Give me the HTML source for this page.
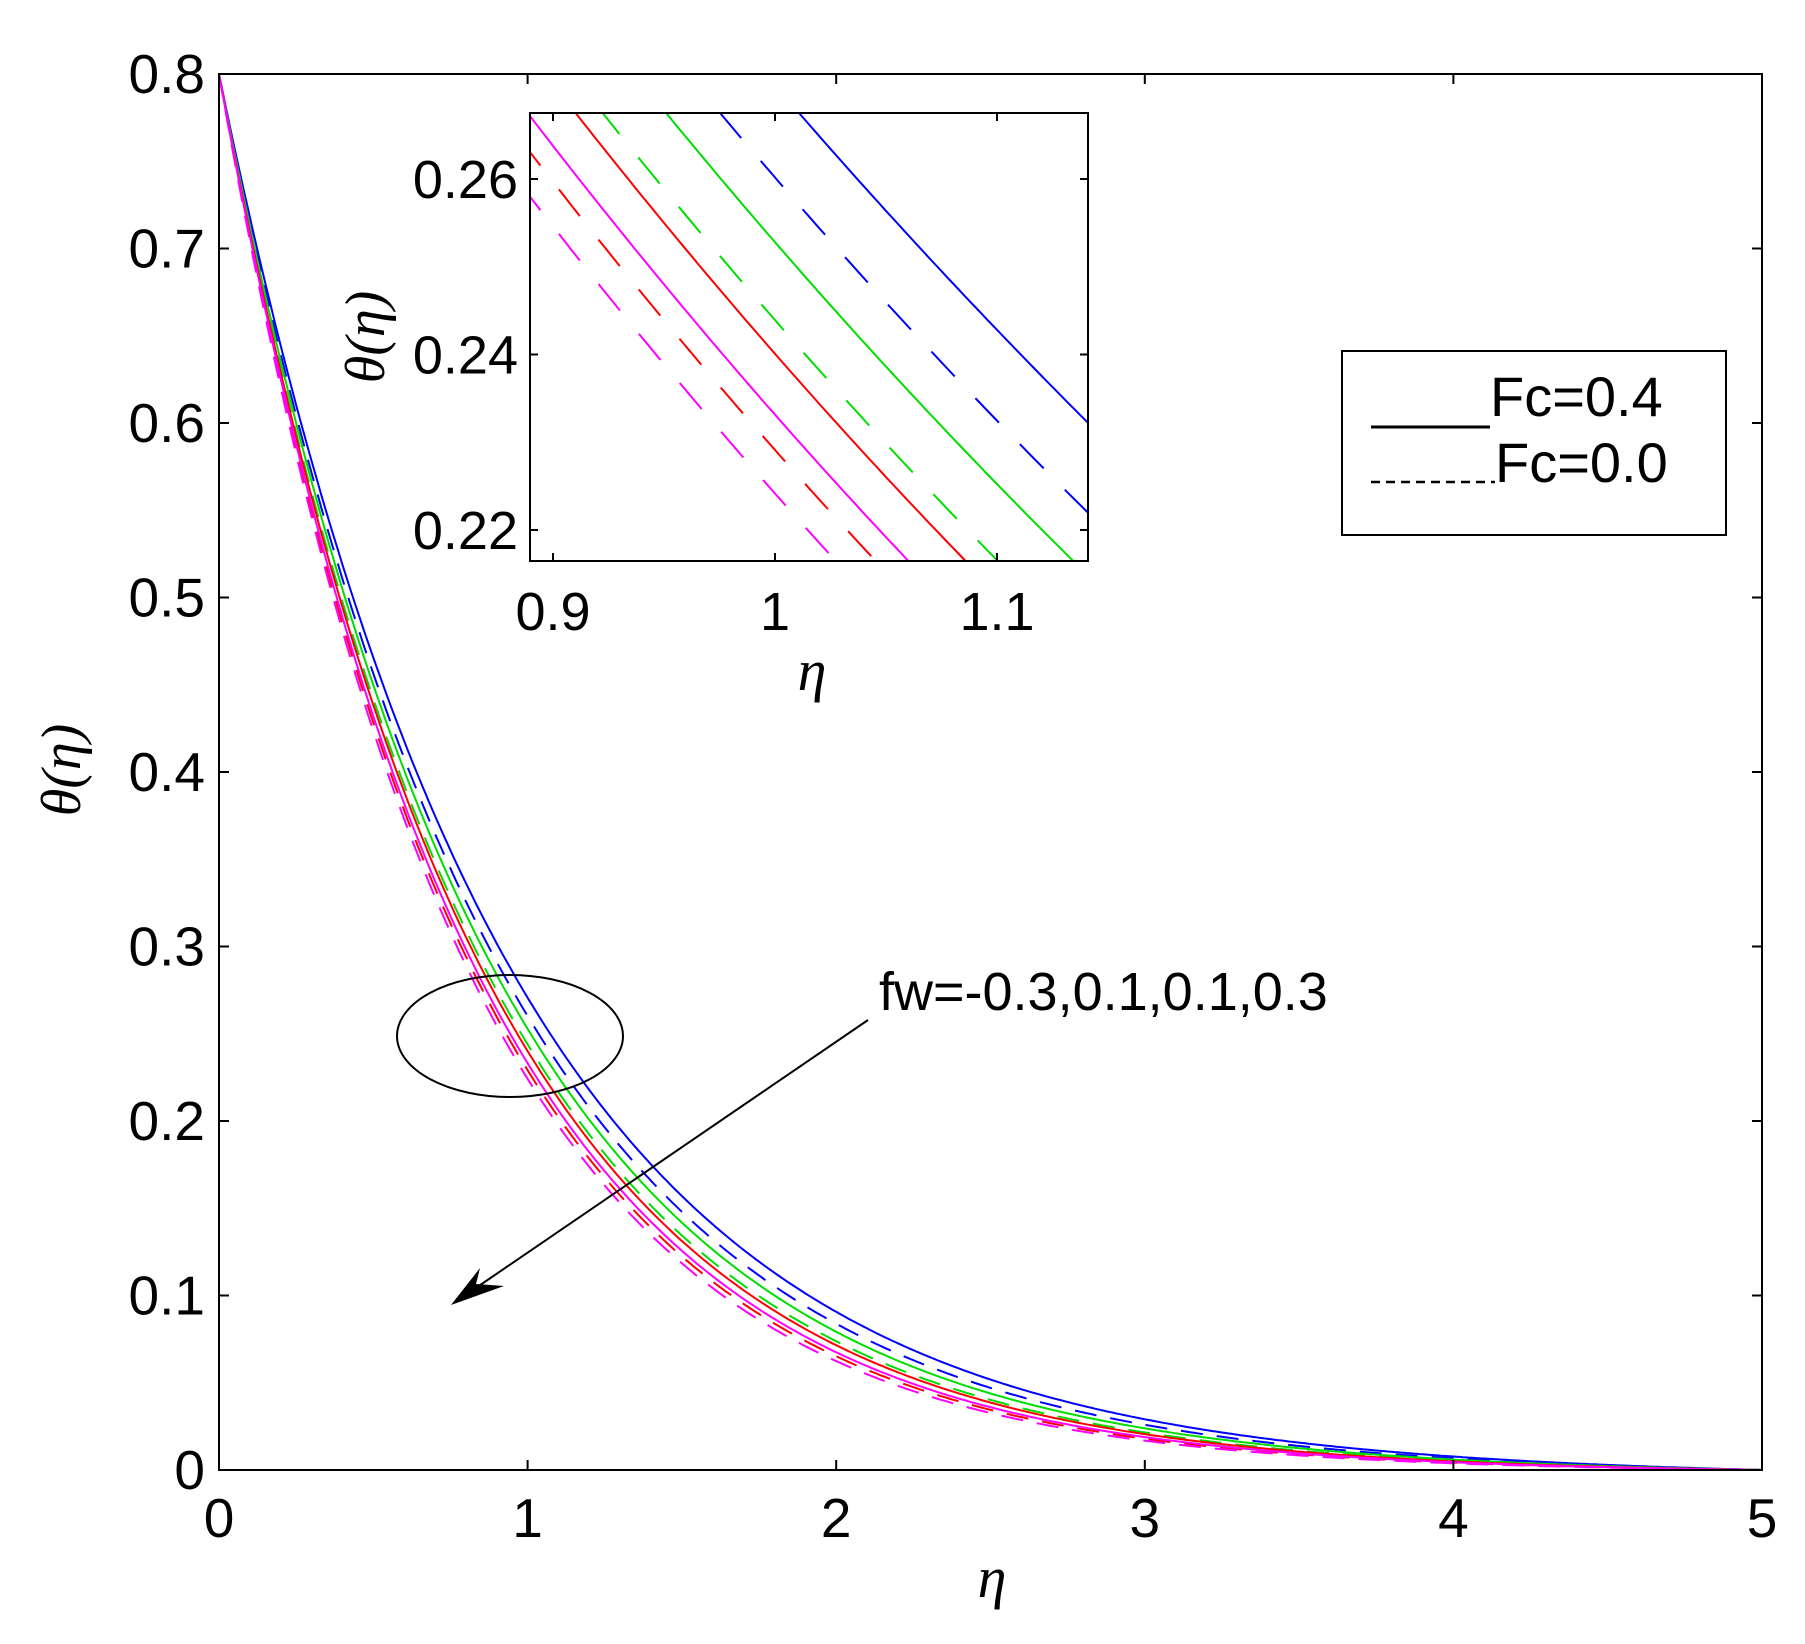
<!DOCTYPE html>
<html><head><meta charset="utf-8"><style>
body{margin:0;background:#fff}
svg{display:block}
text{font-family:"Liberation Sans",sans-serif;fill:#000}
.it{font-family:"Liberation Serif",serif;font-style:italic}
</style></head><body>
<svg id="s" width="1805" height="1644" xmlns="http://www.w3.org/2000/svg">
<rect width="1805" height="1644" fill="#fff"/>
<g id="main"></g>
<rect x="219" y="74" width="1543" height="1396" fill="none" stroke="#000" stroke-width="2"/>
<g id="ticks" font-size="55"></g>
<text class="it" x="992" y="1597" font-size="58" text-anchor="middle">η</text>
<text class="it" font-size="56" transform="translate(80,770) rotate(-90)" text-anchor="middle">θ(η)</text>
<ellipse cx="510" cy="1036" rx="113" ry="61" fill="none" stroke="#000" stroke-width="2"/>
<text x="879" y="1010" font-size="54">fw=-0.3,0.1,0.1,0.3</text>
<line x1="868" y1="1020" x2="470" y2="1292" stroke="#000" stroke-width="2"/>
<polygon points="451,1305 480,1268 476,1284 504,1286" fill="#000"/>
<rect x="1342" y="351" width="384" height="184" fill="#fff" stroke="#000" stroke-width="2"/>
<line x1="1371" y1="427" x2="1490" y2="427" stroke="#000" stroke-width="3"/>
<text x="1490" y="416" font-size="56">Fc=0.4</text>
<line x1="1371" y1="482" x2="1495" y2="482" stroke="#000" stroke-width="2.5" stroke-dasharray="9,6"/>
<text x="1495" y="482" font-size="56">Fc=0.0</text>
<rect x="530" y="113" width="558" height="448" fill="#fff"/>
<g id="inset"></g>
<rect x="530" y="113" width="558" height="448" fill="none" stroke="#000" stroke-width="2"/>
<g id="iticks" font-size="54"></g>
<text class="it" x="812" y="690" font-size="58" text-anchor="middle">η</text>
<text class="it" font-size="56" transform="translate(384,337) rotate(-90)" text-anchor="middle">θ(η)</text>
</svg>
<script>
var NS="http://www.w3.org/2000/svg";
function el(p,t,a,txt){var e=document.createElementNS(NS,t);for(var k in a)e.setAttribute(k,a[k]);if(txt!==undefined)e.textContent=txt;p.appendChild(e);return e;}
var curves=[
 {c:"#0000ff",k:1.081,d:false},{c:"#0000ff",k:1.121,d:true},
 {c:"#00dd00",k:1.150,d:false},{c:"#00dd00",k:1.186,d:true},
 {c:"#ff0000",k:1.202,d:false},{c:"#ff0000",k:1.249,d:true},
 {c:"#ff00ff",k:1.2315,d:false},{c:"#ff00ff",k:1.271,d:true}];
function th(k,x){return 0.8*Math.exp(-k*x)-0.8*Math.exp(-k*5)*x/5;}
var m=document.getElementById("main");
curves.forEach(function(cv){var p="";for(var i=0;i<=500;i++){var x=i/100;var X=219+x*308.6,Y=1470-th(cv.k,x)*1745;p+=(i?"L":"M")+X.toFixed(1)+","+Y.toFixed(1);}
 var a={d:p,fill:"none",stroke:cv.c,"stroke-width":2};if(cv.d)a["stroke-dasharray"]="22,14";el(m,"path",a);});
var t=document.getElementById("ticks");
for(var i=0;i<=5;i++){var X=219+i*308.6;el(t,"line",{x1:X,y1:1470,x2:X,y2:1460,stroke:"#000","stroke-width":2});el(t,"line",{x1:X,y1:74,x2:X,y2:84,stroke:"#000","stroke-width":2});el(t,"text",{x:X,y:1537,"text-anchor":"middle"},String(i));}
for(var j=0;j<=8;j++){var Y=1470-j*174.5;el(t,"line",{x1:219,y1:Y,x2:229,y2:Y,stroke:"#000","stroke-width":2});el(t,"line",{x1:1762,y1:Y,x2:1752,y2:Y,stroke:"#000","stroke-width":2});el(t,"text",{x:205,y:Y+19,"text-anchor":"end"},j==0?"0":(j/10).toFixed(1));}
var ins=document.getElementById("inset");
var cl=el(ins,"clipPath",{id:"cp"});el(cl,"rect",{x:530,y:113,width:558,height:448});
var g=el(ins,"g",{"clip-path":"url(#cp)"});
function IX(x){return 553+(x-0.9)*2220;}function IY(y){return 530-(y-0.22)*8775;}
curves.forEach(function(cv){var p="";for(var i=0;i<=100;i++){var x=0.885+i*0.0026;p+=(i?"L":"M")+IX(x).toFixed(1)+","+IY(th(cv.k,x)).toFixed(1);}
 var a={d:p,fill:"none",stroke:cv.c,"stroke-width":2};if(cv.d)a["stroke-dasharray"]="34,30";el(g,"path",a);});
var it=document.getElementById("iticks");
[[0.9,"0.9"],[1.0,"1"],[1.1,"1.1"]].forEach(function(v){var X=IX(v[0]);el(it,"line",{x1:X,y1:561,x2:X,y2:553,stroke:"#000","stroke-width":2});el(it,"line",{x1:X,y1:113,x2:X,y2:121,stroke:"#000","stroke-width":2});el(it,"text",{x:X,y:630,"text-anchor":"middle"},v[1]);});
[[0.22,"0.22"],[0.24,"0.24"],[0.26,"0.26"]].forEach(function(v){var Y=IY(v[0]);el(it,"line",{x1:530,y1:Y,x2:538,y2:Y,stroke:"#000","stroke-width":2});el(it,"line",{x1:1088,y1:Y,x2:1080,y2:Y,stroke:"#000","stroke-width":2});el(it,"text",{x:518,y:Y+19,"text-anchor":"end"},v[1]);});
</script>
</body></html>
